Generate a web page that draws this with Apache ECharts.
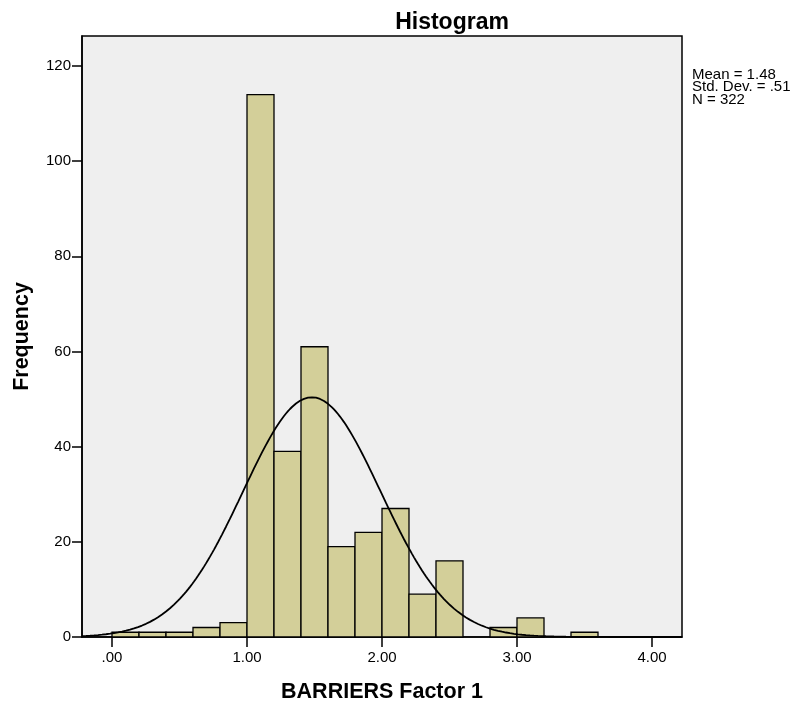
<!DOCTYPE html>
<html>
<head>
<meta charset="utf-8">
<script src="https://cdn.jsdelivr.net/npm/echarts@6/dist/echarts.min.js"></script>
<style>
html,body{margin:0;padding:0;background:#fff;}
#chart{width:799px;height:709px;}
</style>
</head>
<body>
<div id="chart"></div>
<script>
// Histogram bins of BARRIERS Factor 1 (bin width 0.2)
const binStarts = [0.0, 0.2, 0.4, 0.6, 0.8, 1.0, 1.2, 1.4, 1.6, 1.8, 2.0, 2.2, 2.4, 2.6, 2.8, 3.0, 3.2, 3.4];
const binCounts = [1, 1, 1, 2, 3, 114, 39, 61, 19, 22, 27, 9, 16, 0, 2, 4, 0, 1];
const binWidth = 0.2;

// Summary statistics shown beside the plot
const mean = 1.48;
const stdDev = 0.51;
const n = 322;

const xTicks = [0, 1, 2, 3, 4];
const xTickLabels = ['.00', '1.00', '2.00', '3.00', '4.00'];
const yTicks = [0, 20, 40, 60, 80, 100, 120];

const xMin = -0.2222, xMax = 4.2222;

const bars = binStarts.map((s, i) => [s, s + binWidth, binCounts[i]]);

// Normal density scaled to frequency per bin
const curve = [];
const steps = 300;
for (let i = 0; i <= steps; i++) {
  const x = xMin + (xMax - xMin) * i / steps;
  const z = (x - mean) / stdDev;
  const y = n * binWidth / (stdDev * Math.sqrt(2 * Math.PI)) * Math.exp(-0.5 * z * z);
  curve.push([x, y]);
}

const FONT = 'Liberation Sans, Arial, sans-serif';
const chart = echarts.init(document.getElementById('chart'), null, {renderer: 'canvas'});

chart.setOption({
  animation: false,
  backgroundColor: '#ffffff',
  title: {
    text: 'Histogram',
    left: 447, top: 6, textAlign: 'center',
    textStyle: {fontFamily: FONT, fontSize: 23, fontWeight: 'bold', color: '#000'}
  },
  graphic: [{
    type: 'text', left: 692, top: 67,
    style: {
      text: 'Mean = 1.48\nStd. Dev. = .51\nN = 322',
      font: '15px ' + FONT, fill: '#000', lineHeight: 12.5
    }
  }],
  grid: {
    left: 82, top: 36, right: 117, bottom: 72,
    show: true, backgroundColor: '#efefef', borderColor: '#000', borderWidth: 1.5
  },
  xAxis: {
    type: 'value', min: xMin, max: xMax,
    name: 'BARRIERS Factor 1', nameLocation: 'middle', nameGap: 44,
    nameTextStyle: {fontFamily: FONT, fontSize: 21.5, fontWeight: 'bold', color: '#000'},
    splitLine: {show: false},
    axisLine: {show: true, onZero: false, lineStyle: {color: '#000', width: 1.5}},
    axisTick: {show: true, inside: false, length: 10, customValues: xTicks, lineStyle: {color: '#000', width: 1.5}},
    axisLabel: {
      customValues: xTicks, margin: 13,
      fontFamily: FONT, fontSize: 15, color: '#000',
      formatter: v => xTickLabels[xTicks.indexOf(Math.round(v))]
    }
  },
  yAxis: {
    type: 'value', min: 0, max: 126.3,
    name: 'Frequency', nameLocation: 'middle', nameGap: 49, nameRotate: 90,
    nameTextStyle: {fontFamily: FONT, fontSize: 21.5, fontWeight: 'bold', color: '#000'},
    splitLine: {show: false},
    axisLine: {show: true, onZero: false, lineStyle: {color: '#000', width: 1.5}},
    axisTick: {show: true, length: 10, customValues: yTicks, lineStyle: {color: '#000', width: 1.5}},
    axisLabel: {customValues: yTicks, margin: 11, fontFamily: FONT, fontSize: 15, color: '#000'}
  },
  series: [
    {
      type: 'custom',
      data: bars,
      encode: {x: [0, 1], y: 2},
      renderItem: function (params, api) {
        const h = api.value(2);
        if (!h) return null;
        const p0 = api.coord([api.value(0), h]);
        const p1 = api.coord([api.value(1), 0]);
        return {
          type: 'rect',
          shape: {x: p0[0], y: p0[1], width: p1[0] - p0[0], height: p1[1] - p0[1]},
          style: {fill: '#d3cf99', stroke: '#000', lineWidth: 1.3}
        };
      },
      z: 2
    },
    {
      type: 'line',
      data: curve,
      showSymbol: false,
      smooth: false,
      lineStyle: {color: '#000', width: 1.8},
      clip: true,
      z: 3
    }
  ]
});
</script>
</body>
</html>
